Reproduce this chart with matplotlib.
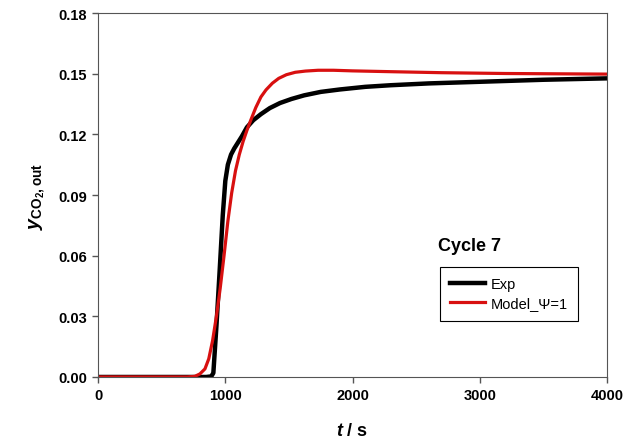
import matplotlib
matplotlib.use("Agg")
import matplotlib.pyplot as plt

# values
exp_t = [0, 850, 890, 906, 930, 955, 980, 1000, 1020, 1045, 1070, 1100, 1130,
         1170, 1220, 1280, 1350, 1430, 1520, 1620, 1750, 1900, 2100, 2300,
         2600, 3000, 3500, 4000]
exp_y = [0, 0, 0.0003, 0.002, 0.025, 0.052, 0.080, 0.097, 0.105, 0.110, 0.113,
         0.116, 0.119, 0.1235, 0.127, 0.130, 0.133, 0.1355, 0.1375, 0.1393,
         0.141, 0.1422, 0.1435, 0.1443, 0.1452, 0.146, 0.147, 0.1477]

model_t = [0, 700, 760, 800, 840, 870, 900, 930, 960, 990, 1020, 1050, 1080,
           1110, 1140, 1170, 1200, 1240, 1280, 1320, 1370, 1420, 1480, 1550,
           1630, 1730, 1850, 2000, 2300, 2700, 3200, 4000]
model_y = [0, 0, 0.0003, 0.0015, 0.004, 0.009, 0.018, 0.030, 0.044, 0.060,
           0.077, 0.091, 0.102, 0.110, 0.1165, 0.122, 0.127, 0.1333, 0.1385,
           0.142, 0.1453, 0.1477, 0.1495, 0.1507, 0.1513, 0.1517, 0.1517,
           0.1514, 0.151, 0.1505, 0.1501, 0.1498]

x_ticks = [0, 1000, 2000, 3000, 4000]
y_ticks = [0.00, 0.03, 0.06, 0.09, 0.12, 0.15, 0.18]

plt.rcParams['font.family'] = ['Liberation Sans', 'DejaVu Sans']
plt.rcParams['mathtext.fontset'] = 'custom'
plt.rcParams['mathtext.rm'] = 'Liberation Sans:bold'
plt.rcParams['mathtext.it'] = 'Liberation Sans:italic:bold'
plt.rcParams['mathtext.bf'] = 'Liberation Sans:bold'

fig = plt.figure(figsize=(6.25, 4.39), dpi=100)
ax = fig.add_axes([0.157, 0.139, 0.814, 0.829])

ax.plot(exp_t, exp_y, color='black', lw=3.2, label='Exp', solid_joinstyle='round')
ax.plot(model_t, model_y, color='#d81010', lw=2.3, label='Model_\u03a8=1',
        solid_joinstyle='round')

ax.set_xlim(0, 4000)
ax.set_ylim(0, 0.18)
ax.set_xticks(x_ticks)
ax.set_yticks(y_ticks)
ax.set_yticklabels(['%.2f' % v for v in y_ticks])
for lab in ax.get_xticklabels() + ax.get_yticklabels():
    lab.set_fontweight('bold')
    lab.set_fontsize(10.5)
ax.tick_params(direction='out', length=4, width=1, color='#555555', pad=4)
for s in ax.spines.values():
    s.set_color('#555555')

ax.set_xlabel(r'$t$ / s', fontsize=13, fontweight='bold', labelpad=14)
ax.set_ylabel(r'$y_{\mathrm{CO_2,out}}$', fontsize=14, labelpad=8)

ax.text(2670, 0.0648, 'Cycle 7', fontsize=13, fontweight='bold', va='center')

leg = ax.legend(loc='upper left', bbox_to_anchor=(0.672, 0.302), borderaxespad=0,
                fancybox=False, framealpha=1, edgecolor='black', fontsize=10.5,
                handlelength=2.4, handletextpad=0.4, borderpad=0.7, labelspacing=0.35)
leg.get_frame().set_linewidth(0.8)

fig.savefig('out.png', dpi=100)
